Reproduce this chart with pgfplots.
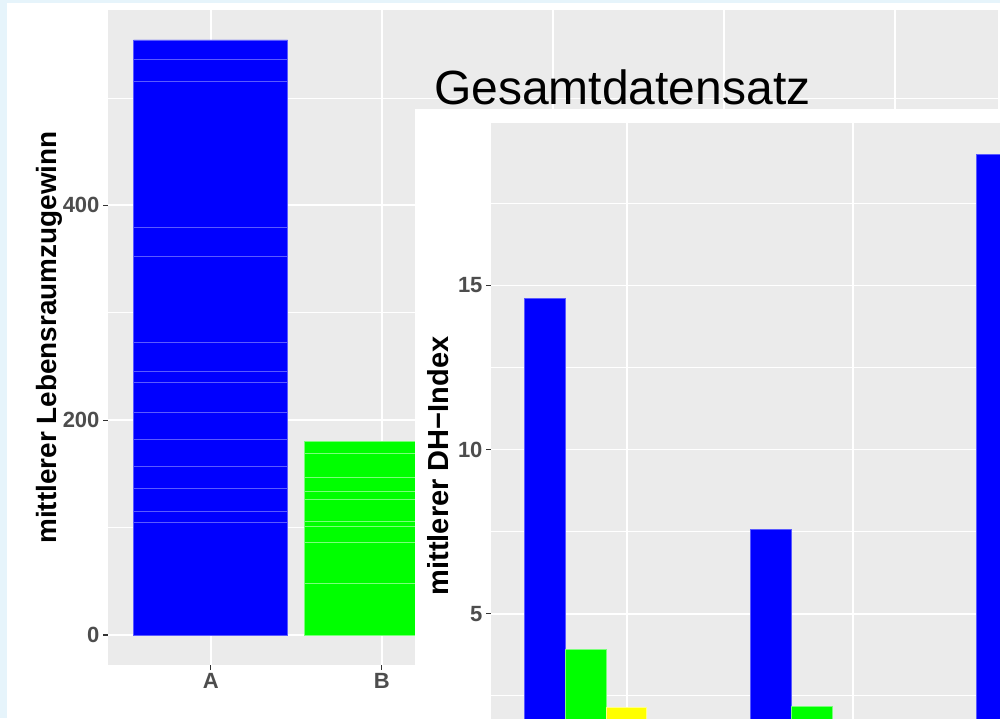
\documentclass[border=0pt]{standalone}
\usepackage{fontspec}
\setmainfont{Liberation Sans}
\usepackage{pgfplots}
\pgfplotsset{compat=1.18}
\definecolor{bgblue}{HTML}{E6F4FB}
\definecolor{panel}{HTML}{EBEBEB}
\definecolor{tickgray}{HTML}{333333}
\definecolor{labgray}{HTML}{4D4D4D}
\definecolor{bluebar}{HTML}{0000FF}
\definecolor{blueedge}{HTML}{5A5AFF}
\definecolor{greenbar}{HTML}{00FF00}
\definecolor{greenedge}{HTML}{7AFF7A}
\definecolor{yellowbar}{HTML}{FFFF00}
\definecolor{yellowedge}{HTML}{FFFF8A}
\pgfplotsset{
  ggstyle/.style={
    scale only axis,
    anchor=south west,
    axis background/.style={fill=panel},
    axis line style={draw=none},
    tick align=outside,
    tick pos=left,
    major tick length=5pt,
    minor tick length=0pt,
    tick style={color=tickgray, line width=1.1pt},
    xmajorgrids, ymajorgrids, yminorgrids,
    major grid style={white, line width=1.8pt},
    minor grid style={white, line width=0.9pt},
    ticklabel style={font=\fontsize{22}{22}\selectfont\bfseries, text=labgray},
    /pgf/number format/assume math mode=true,
  }
}
\begin{document}
\begin{tikzpicture}
\useasboundingbox (0pt,0pt) rectangle (1000pt,718pt);
\begin{scope}
\clip (0pt,0pt) rectangle (1000pt,718pt);
\fill[bgblue] (0pt,0pt) rectangle (1000pt,718pt);
\fill[white] (7pt,0pt) rectangle (1000pt,715pt);
% left chart
\begin{axis}[ggstyle, at={(108pt,53pt)}, width=890pt, height=655pt,
  xmin=0.4, xmax=5.6, ymin=-27.9, ymax=581.9,
  xtick={1,2,3,4,5}, xticklabels={A,B,C,D,E},
  ytick={0,200,400}, minor ytick={100,300,500}]
\addplot[ybar, bar width=0.9, bar shift=0, fill=bluebar, draw=blueedge, line width=0.9pt]
  coordinates {(1,554.0) (1,535.4) (1,515.8) (1,379.0) (1,352.0) (1,272.8) (1,245.8)
               (1,235.6) (1,207.6) (1,182.5) (1,157.4) (1,136.9) (1,115.5) (1,105.2)};
\addplot[ybar, bar width=0.9, bar shift=0, fill=greenbar, draw=greenedge, line width=0.9pt]
  coordinates {(2,180.6) (2,169.5) (2,147.1) (2,134.1) (2,126.6) (2,106.1) (2,101.5)
               (2,86.6) (2,48.4)};
\end{axis}
\node[rotate=90, anchor=base, inner sep=0pt, font=\fontsize{27.9}{28}\selectfont\bfseries]
  at (56pt,380.5pt) {mittlerer Lebensraumzugewinn};
\node[anchor=base west, inner sep=0pt, font=\fontsize{48}{48}\selectfont]
  at (434pt,613pt) {Gesamtdatensatz};
% right chart
\fill[white] (414.5pt,-20pt) rectangle (1020pt,609pt);
\begin{axis}[ggstyle, at={(491pt,-91pt)}, width=723.2pt, height=686pt,
  xmin=0.4, xmax=3.6, ymin=-0.95, ymax=19.95,
  xtick={1,2,3}, xticklabels={,,},
  ytick={5,10,15}, minor ytick={2.5,7.5,12.5,17.5}]
\addplot[ybar, bar width=0.18, bar shift=-0.36, fill=bluebar, draw=blueedge, line width=0.9pt]
  coordinates {(1,14.6) (2,7.56) (3,19.0)};
\addplot[ybar, bar width=0.18, bar shift=-0.18, fill=greenbar, draw=greenedge, line width=0.9pt]
  coordinates {(1,3.92) (2,2.16)};
\addplot[ybar, bar width=0.18, bar shift=0, fill=yellowbar, draw=yellowedge, line width=0.9pt]
  coordinates {(1,2.13)};
\end{axis}
\node[rotate=90, anchor=base, inner sep=0pt, font=\fontsize{29}{29}\selectfont\bfseries]
  at (448pt,252pt) {mittlerer DH−Index};
\end{scope}
\end{tikzpicture}
\end{document}
